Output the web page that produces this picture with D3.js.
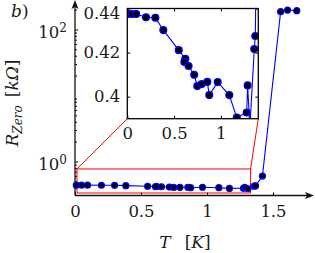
<!DOCTYPE html>
<html>
<head>
<meta charset="utf-8">
<script src="https://cdn.jsdelivr.net/npm/d3@7"></script>
<style>
  body { margin: 0; background: #fff; }
</style>
</head>
<body>
<div id="chart"></div>
<script>
var svgWidth = 315;
var svgHeight = 253;
var labelFont = "DejaVu Serif";

// temperature T [K] and zero-bias resistance R [kOhm], in measuring order
var temps = [0.01, 0.05, 0.095, 0.2, 0.3, 0.385, 0.55, 0.62, 0.61, 0.655, 0.715, 0.748, 0.795,
  0.855, 0.876, 0.966, 1.09, 1.17, 1.276, 1.286, 1.31, 1.357, 1.368, 1.42, 1.558, 1.61, 1.68];
var rZero = [0.4375, 0.4375, 0.4375, 0.436, 0.4358, 0.4302, 0.4211, 0.4172, 0.4157, 0.4139, 0.4099,
  0.4048, 0.4057, 0.4067, 0.4007, 0.4066, 0.4007, 0.3905, 0.3928, 0.4051, 0.386, 0.4216, 0.4275,
  0.60, 186, 197, 193];

// main axes ticks
var xTicks = [0, 0.5, 1, 1.5];
var yTicks = [1, 100];
// zoomed region shown in the inset
var zoomT = [0.015, 1.33];
var zoomR = [0.333, 0.77];
// inset ticks
var insetXTicks = [0, 0.5, 1];
var insetYTicks = [0.4, 0.42, 0.44];

var data = temps.map(function(t, i) { return { t: t, r: rZero[i] }; });

var svg = d3.select("#chart")
  .append("svg")
  .attr("width", svgWidth)
  .attr("height", svgHeight);

// main scales
var x = d3.scaleLinear().domain([0, 1.8]).range([75, 75 + 132 * 1.8]);
var y = d3.scaleLog().domain([0.305, 252]).range([195.5, 3]);

// inset scales
var xi = d3.scaleLinear().domain([0, 1.4]).range([127.3, 258.3]);
var yi = d3.scaleLinear().domain([0.39, 0.44]).range([118.7, 8.5]);

// ---- main axes ----
var bottomAxis = d3.axisBottom(x).tickValues(xTicks).tickSizeInner(-3).tickSizeOuter(0)
  .tickPadding(10).tickFormat(d3.format("~g"));
var xAxis = svg.append("g")
  .attr("transform", "translate(0," + y(0.305) + ")")
  .call(bottomAxis);
xAxis.select(".domain").remove();
xAxis.selectAll("text").style("font-size", "16.5px");

// minor log ticks
var minor = [];
[0.1, 1, 10, 100].forEach(function(p) {
  for (var k = 2; k <= 9; k++) {
    var v = k * p;
    if (v > 0.305 && v < 252) minor.push(v);
  }
});
var minorAxis = svg.append("g")
  .attr("transform", "translate(" + x(0) + ",0)")
  .call(d3.axisLeft(y).tickValues(minor).tickSizeInner(-2).tickSizeOuter(0).tickFormat(""));
minorAxis.select(".domain").remove();

var leftAxis = d3.axisLeft(y).tickValues(yTicks).tickSizeInner(-3).tickSizeOuter(0).tickPadding(8)
  .tickFormat(function() { return ""; });
var yAxis = svg.append("g")
  .attr("transform", "translate(" + x(0) + ",0)")
  .call(leftAxis);
yAxis.select(".domain").remove();
yAxis.selectAll("text").each(function(d) {
  var t = d3.select(this).attr("dy", "0.5em").style("font-size", "16.5px");
  t.append("tspan").text("10");
  t.append("tspan").attr("dy", "-0.55em").style("font-size", "12px").text(Math.round(Math.log10(d)));
});

// axis lines with arrows
var x0 = x(0), y0 = y(0.305);
svg.append("line").attr("x1", x0).attr("y1", y0).attr("x2", x0).attr("y2", 6)
  .attr("stroke", "#111").attr("stroke-width", 1.3);
svg.append("path").attr("d", "M" + x0 + ",0 L" + (x0 - 3.5) + ",9 L" + x0 + ",7 L" + (x0 + 3.5) + ",9 Z")
  .attr("fill", "#111");
svg.append("line").attr("x1", x0).attr("y1", y0).attr("x2", 309).attr("y2", y0)
  .attr("stroke", "#111").attr("stroke-width", 1.3);
svg.append("path").attr("d", "M314," + y0 + " L305," + (y0 - 3.5) + " L307," + y0 + " L305," + (y0 + 3.5) + " Z")
  .attr("fill", "#111");

// ---- zoom box and connectors ----
svg.append("rect")
  .attr("x", x(zoomT[0])).attr("y", y(zoomR[1]))
  .attr("width", x(zoomT[1]) - x(zoomT[0]))
  .attr("height", y(zoomR[0]) - y(zoomR[1]))
  .attr("fill", "none").attr("stroke", "#ff0000").attr("stroke-width", 1);
svg.append("line")
  .attr("x1", x(zoomT[0])).attr("y1", y(zoomR[1]))
  .attr("x2", xi(0)).attr("y2", yi(0.39))
  .attr("stroke", "#ff0000").attr("stroke-width", 1);
svg.append("line")
  .attr("x1", x(zoomT[1])).attr("y1", y(zoomR[1]))
  .attr("x2", xi(1.4)).attr("y2", yi(0.39))
  .attr("stroke", "#ff0000").attr("stroke-width", 1);

// ---- main data ----
var line = d3.line().x(function(d) { return x(d.t); }).y(function(d) { return y(d.r); });
svg.append("path").datum(data)
  .attr("d", line)
  .attr("fill", "none").attr("stroke", "#0000ff").attr("stroke-width", 1.1);
svg.append("g").selectAll("circle")
  .data(data)
  .enter()
  .append("circle")
  .attr("cx", function(d) { return x(d.t); })
  .attr("cy", function(d) { return y(d.r); })
  .attr("r", 3)
  .attr("fill", "#000")
  .attr("stroke", "#0000ff")
  .attr("stroke-width", 1.2);

// ---- inset ----
var inset = svg.append("g");
inset.append("rect")
  .attr("x", xi(0)).attr("y", yi(0.44))
  .attr("width", xi(1.4) - xi(0)).attr("height", yi(0.39) - yi(0.44))
  .attr("fill", "#fff");

svg.append("clipPath").attr("id", "insetClip")
  .append("rect")
  .attr("x", xi(0)).attr("y", yi(0.44))
  .attr("width", xi(1.4) - xi(0)).attr("height", yi(0.39) - yi(0.44));

var insetLine = d3.line().x(function(d) { return xi(d.t); }).y(function(d) { return yi(d.r); });
var insetData = inset.append("g").attr("clip-path", "url(#insetClip)");
insetData.append("path").datum(data)
  .attr("d", insetLine)
  .attr("fill", "none").attr("stroke", "#0000ff").attr("stroke-width", 1.1);
insetData.selectAll("circle")
  .data(data.filter(function(d) { return d.r < 1; }))
  .enter()
  .append("circle")
  .attr("cx", function(d) { return xi(d.t); })
  .attr("cy", function(d) { return yi(d.r); })
  .attr("r", 3.4)
  .attr("fill", "#000")
  .attr("stroke", "#0000ff")
  .attr("stroke-width", 1.3);

// inset axes (ticks inside, mirrored on top and right)
var ib = inset.append("g").attr("transform", "translate(0," + yi(0.39) + ")")
  .call(d3.axisBottom(xi).tickValues(insetXTicks).tickSizeInner(-3).tickSizeOuter(0)
    .tickPadding(9).tickFormat(d3.format("~g")));
var it = inset.append("g").attr("transform", "translate(0," + yi(0.44) + ")")
  .call(d3.axisTop(xi).tickValues(insetXTicks).tickSizeInner(-3).tickSizeOuter(0).tickFormat(""));
var il = inset.append("g").attr("transform", "translate(" + xi(0) + ",0)")
  .call(d3.axisLeft(yi).tickValues(insetYTicks).tickSizeInner(-3).tickSizeOuter(0)
    .tickPadding(7).tickFormat(d3.format("~g")));
var ir = inset.append("g").attr("transform", "translate(" + xi(1.4) + ",0)")
  .call(d3.axisRight(yi).tickValues(insetYTicks).tickSizeInner(-3).tickSizeOuter(0).tickFormat(""));
[ib, it, il, ir].forEach(function(a) { a.select(".domain").remove(); });
ib.selectAll("text").style("font-size", "16.5px");
il.selectAll("text").style("font-size", "16.5px")
  .attr("dy", function(d) { return d === 0.44 ? "0.6em" : "0.32em"; });

inset.append("rect")
  .attr("x", xi(0)).attr("y", yi(0.44))
  .attr("width", xi(1.4) - xi(0)).attr("height", yi(0.39) - yi(0.44))
  .attr("fill", "none").attr("stroke", "#000").attr("stroke-width", 1.3);

// ---- labels ----
var xlab = svg.append("text")
  .attr("x", 185).attr("y", 248)
  .attr("text-anchor", "middle")
  .style("font-size", "17px");
xlab.append("tspan").style("font-style", "italic").text("T");
xlab.append("tspan").attr("dx", 14).text("[");
xlab.append("tspan").style("font-style", "italic").text("K");
xlab.append("tspan").text("]");

var ylab = svg.append("text")
  .attr("transform", "translate(18,103) rotate(-90)")
  .attr("text-anchor", "middle")
  .style("font-size", "17px");
ylab.append("tspan").style("font-style", "italic").text("R");
ylab.append("tspan").attr("dy", 4).style("font-style", "italic").style("font-size", "12px").text("Zero");
ylab.append("tspan").attr("dy", -4).attr("dx", 8).text("[");
ylab.append("tspan").style("font-style", "italic").text("k\u03A9");
ylab.append("tspan").text("]");

var panel = svg.append("text").attr("x", 11).attr("y", 17).style("font-size", "17px");
panel.append("tspan").style("font-style", "italic").text("b");
panel.append("tspan").text(")");

svg.selectAll("text").style("font-family", labelFont).style("fill", "#1a1a1a");
svg.selectAll("g").attr("font-family", null);
</script>
</body>
</html>
